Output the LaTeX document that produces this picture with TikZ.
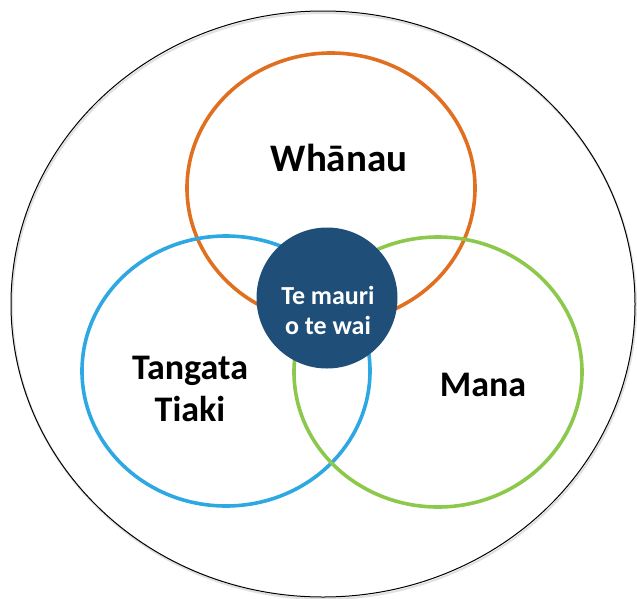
\documentclass[tikz,border=0pt]{standalone}
\usepackage{fontspec}
\setmainfont{Carlito}
\definecolor{orangeC}{HTML}{E07020}
\definecolor{blueC}{HTML}{2EA8E2}
\definecolor{greenC}{HTML}{8CC84B}
\definecolor{navyC}{HTML}{1F4E79}
\begin{document}
\begin{tikzpicture}[x=1pt,y=-1pt,
  ring/.style={line width=3.6pt},
  lbl/.style={font=\fontsize{36}{42}\selectfont\bfseries, align=center, text=black},
  clbl/.style={font=\fontsize{26}{30}\selectfont\bfseries, align=center, text=white}]
\useasboundingbox (0,0) rectangle (637,598);
% outer ellipse
\draw[black!12, line width=2pt] (324,306) ellipse [x radius=312, y radius=293];
\draw[black, line width=1pt] (323,304) ellipse [x radius=312, y radius=293];
% coloured rings
\draw[ring, orangeC] (331,188) ellipse [x radius=144, y radius=135];
\draw[ring, blueC] (226,371) ellipse [x radius=144, y radius=135];
\draw[ring, greenC] (438,372) ellipse [x radius=144, y radius=135];
% centre
\node[circle, fill=navyC, minimum size=141pt, inner sep=0pt] (core) at (327,298) {};
\node[clbl] (coretext) at (328,310) {Te mauri\\o te wai};
\node[lbl, font=\fontsize{39}{44}\selectfont\bfseries] (whanau) at (339,158) {Whānau};
\node[lbl] (tangata) at (190,389) {Tangata\\Tiaki};
\node[lbl] (mana) at (483,385) {Mana};
\end{tikzpicture}
\end{document}
